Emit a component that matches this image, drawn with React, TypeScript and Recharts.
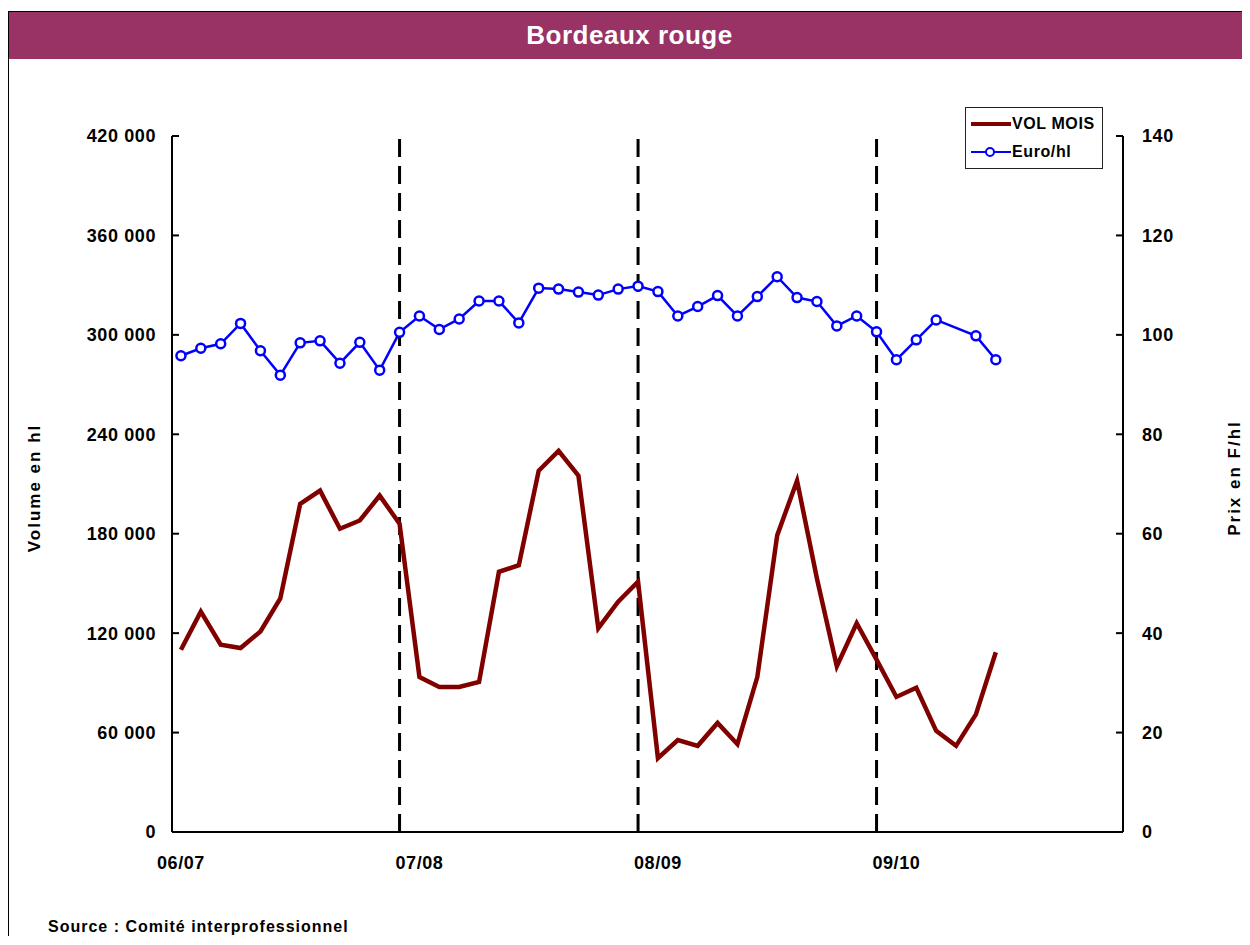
import React from 'react';
import {
  LineChart,
  Line,
  XAxis,
  YAxis,
  ReferenceLine,
  Legend,
} from 'recharts';

// Campagnes (août -> juillet), une valeur par mois
const campagnes = ['06/07', '07/08', '08/09', '09/10'];
const campagneTicks = [0, 12, 24, 36];
const finsCampagne = [11, 23, 35];

// Volume mensuel (hl)
const volMois = [
  110000, 133000, 113000, 111000, 121000, 141000, 198000, 206000, 183000, 188000, 203000, 186000,
  93500, 87500, 87500, 90500, 157000, 161000, 218000, 230000, 215000, 123000, 139000, 151000,
  44600, 55500, 52000, 65800, 53000, 93500, 179000, 212000, 153000, 100000, 126000, 104000,
  81500, 87000, 61000, 52000, 71000, 108500,
];

// Prix (Euro/hl)
const euroHl = [
  95.8, 97.3, 98.2, 102.3, 96.8, 91.9, 98.4, 98.8, 94.3, 98.5, 92.9, 100.5,
  103.8, 101.1, 103.2, 106.8, 106.8, 102.4, 109.4, 109.2, 108.6, 108.0, 109.2, 109.8,
  108.7, 103.8, 105.7, 107.9, 103.8, 107.7, 111.7, 107.5, 106.7, 101.8, 103.8, 100.6,
  95.0, 99.0, 103.0, null, 99.8, 95.0,
];

const volTicks = [0, 60000, 120000, 180000, 240000, 300000, 360000, 420000];
const prixTicks = [0, 20, 40, 60, 80, 100, 120, 140];

const data = volMois.map((v, i) => ({ mois: i, vol: v, prix: euroHl[i] }));

const FONT = '"Liberation Sans", Arial, sans-serif';

const fmtVol = (v: number) => String(v).replace(/\B(?=(\d{3})+(?!\d))/g, ' ');

const tickText = {
  fill: '#000',
  fontSize: 18,
  fontWeight: 'bold' as const,
  fontFamily: FONT,
  letterSpacing: 0.6,
};

const LeftTick = (props: any) => {
  const { x, y, payload } = props;
  return (
    <g>
      <line x1={x + 16} x2={x + 23} y1={y} y2={y} stroke="#000" strokeWidth={2} />
      <text x={x} y={y} dy="0.36em" textAnchor="end" {...tickText}>
        {fmtVol(payload.value)}
      </text>
    </g>
  );
};

const RightTick = (props: any) => {
  const { x, y, payload } = props;
  return (
    <g>
      <line x1={x - 19} x2={x - 26} y1={y} y2={y} stroke="#000" strokeWidth={2} />
      <text x={x} y={y} dy="0.36em" textAnchor="start" {...tickText}>
        {payload.value}
      </text>
    </g>
  );
};

const legendOrder = ['vol', 'prix'];

const LegendBox = (props: any) => {
  const items = [...(props.payload || [])].sort(
    (a: any, b: any) => legendOrder.indexOf(a.dataKey) - legendOrder.indexOf(b.dataKey)
  );
  return (
    <div
      style={{
        width: 138,
        height: 62,
        border: '1px solid #222',
        background: '#fff',
        boxSizing: 'border-box',
        fontFamily: FONT,
        fontWeight: 'bold',
        fontSize: 16,
        letterSpacing: 0.6,
        color: '#000',
        padding: '2px 0 0 4px',
      }}
    >
      {items.map((p: any) => (
        <div key={p.value} style={{ display: 'flex', alignItems: 'center', height: 28 }}>
          <svg width={42} height={14}>
            <line
              x1={1}
              x2={41}
              y1={7}
              y2={7}
              stroke={p.color}
              strokeWidth={p.dataKey === 'vol' ? 4 : 2}
            />
            {p.dataKey === 'prix' && (
              <circle cx={20} cy={7} r={4} fill="#fff" stroke={p.color} strokeWidth={2} />
            )}
          </svg>
          <span>{p.value}</span>
        </div>
      ))}
    </div>
  );
};

export default function App() {
  return (
    <div style={{ position: 'relative', width: 1242, height: 928, fontFamily: FONT }}>
      <style>{'body{overflow:hidden}'}</style>
      <div
        style={{
          position: 'absolute',
          left: 0,
          top: 3,
          width: 1242,
          height: 925,
          borderTop: '1px solid #000',
          borderLeft: '1px solid #000',
          boxSizing: 'border-box',
        }}
      >
        <div
          style={{
            height: 47,
            background: '#993366',
            color: '#fff',
            fontWeight: 'bold',
            fontSize: 26,
            letterSpacing: 0.5,
            lineHeight: '47px',
            textAlign: 'center',
          }}
        >
          Bordeaux rouge
        </div>
      </div>

      <div style={{ position: 'absolute', left: 0, top: 0 }}>
        <LineChart
          width={1242}
          height={900}
          data={data}
          margin={{ top: 128, right: 0, bottom: 36, left: 0 }}
        >
          <XAxis
            dataKey="mois"
            type="number"
            domain={[-0.45, 47.4]}
            ticks={campagneTicks}
            tickFormatter={(v: number) => campagnes[campagneTicks.indexOf(v)]}
            allowDataOverflow
            tickLine={false}
            tickSize={0}
            tickMargin={24}
            height={40}
            axisLine={{ stroke: '#000', strokeWidth: 2 }}
            tick={tickText}
          />
          <YAxis
            yAxisId="vol"
            domain={[0, 420000]}
            ticks={volTicks}
            width={164}
            tickLine={false}
            tickSize={0}
            tickMargin={16}
            axisLine={{ stroke: '#000', strokeWidth: 2 }}
            tick={<LeftTick />}
          />
          <YAxis
            yAxisId="prix"
            orientation="right"
            domain={[0, 140]}
            ticks={prixTicks}
            width={127}
            tickLine={false}
            tickSize={0}
            tickMargin={19}
            axisLine={{ stroke: '#000', strokeWidth: 2 }}
            tick={<RightTick />}
          />
          {finsCampagne.map((m) => (
            <ReferenceLine
              key={m}
              yAxisId="vol"
              x={m}
              stroke="#000"
              strokeWidth={3}
              strokeDasharray="18 9"
            />
          ))}
          <Line
            yAxisId="vol"
            dataKey="vol"
            name="VOL MOIS"
            type="linear"
            stroke="#800000"
            strokeWidth={4.5}
            dot={false}
            isAnimationActive={false}
          />
          <Line
            yAxisId="prix"
            dataKey="prix"
            name="Euro/hl"
            type="linear"
            stroke="#0000ff"
            strokeWidth={2.5}
            connectNulls
            dot={{ r: 4.5, fill: '#fff', stroke: '#0000ff', strokeWidth: 2.5 }}
            isAnimationActive={false}
          />
          <Legend
            layout="vertical"
            align="center"
            verticalAlign="middle"
            content={<LegendBox />}
            wrapperStyle={{ left: 957, top: 99, width: 138 }}
          />
        </LineChart>
      </div>

      <div
        style={{
          position: 'absolute',
          left: 27,
          top: 480,
          transform: 'translate(-50%, -50%) rotate(-90deg)',
          whiteSpace: 'nowrap',
          fontWeight: 'bold',
          fontSize: 17,
          letterSpacing: 2,
        }}
      >
        Volume en hl
      </div>
      <div
        style={{
          position: 'absolute',
          left: 1227,
          top: 470,
          transform: 'translate(-50%, -50%) rotate(-90deg)',
          whiteSpace: 'nowrap',
          fontWeight: 'bold',
          fontSize: 17,
          letterSpacing: 2,
        }}
      >
        Prix en F/hl
      </div>
      <div
        style={{
          position: 'absolute',
          left: 40,
          top: 910,
          whiteSpace: 'nowrap',
          fontWeight: 'bold',
          fontSize: 16,
          letterSpacing: 1,
        }}
      >
        Source : Comité interprofessionnel
      </div>
    </div>
  );
}
